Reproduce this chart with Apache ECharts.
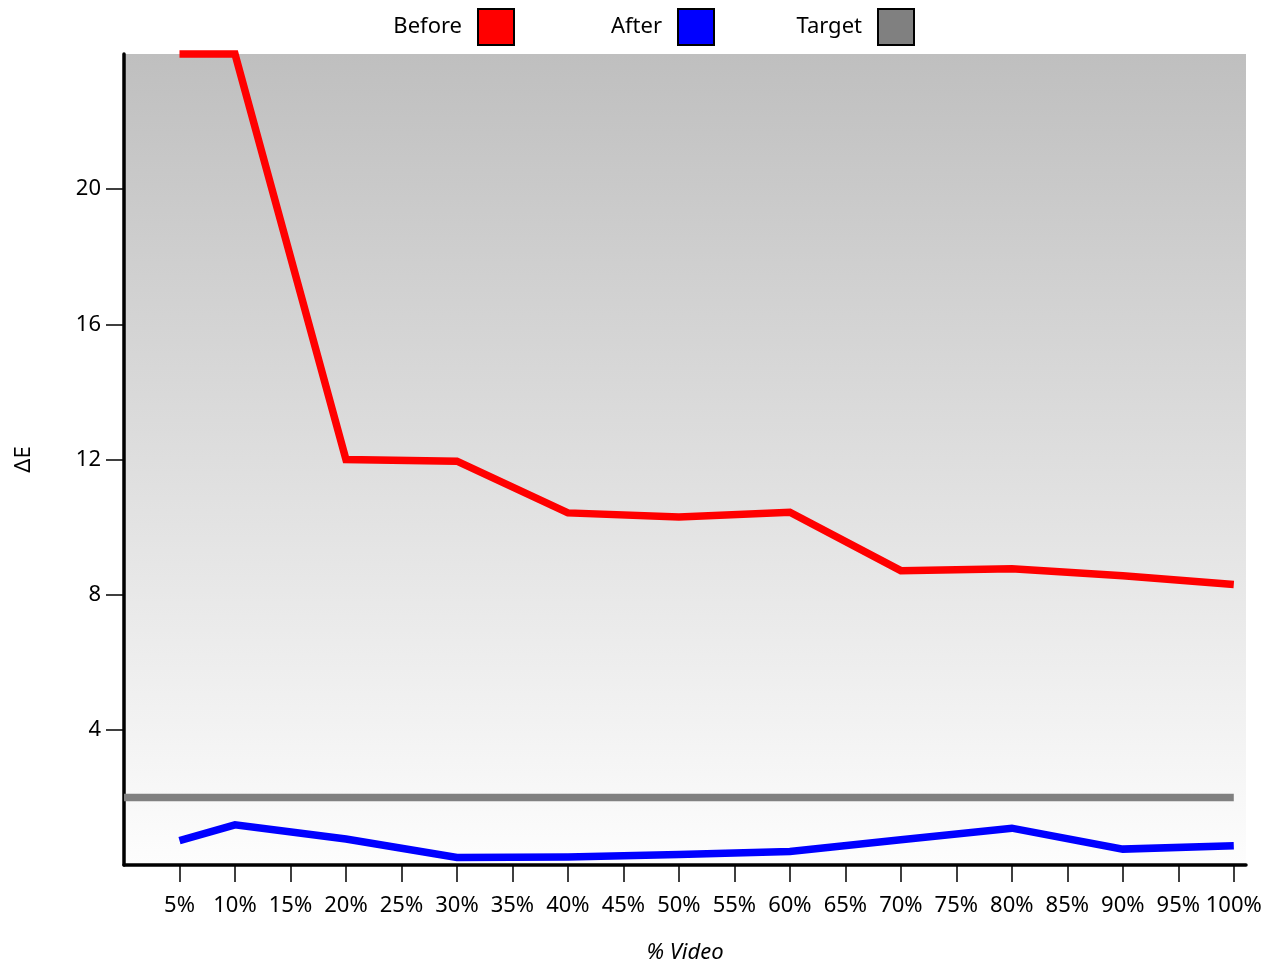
<!DOCTYPE html>
<html>
<head>
<meta charset="utf-8">
<script src="https://cdn.jsdelivr.net/npm/echarts@6/dist/echarts.min.js"></script>
<style>html,body{margin:0;padding:0;background:#fff;overflow:hidden}#c{width:1277px;height:969px}</style>
</head>
<body>
<div id="c"></div>
<script>
const pct = [5, 10, 20, 30, 40, 50, 60, 70, 80, 90, 100];
const beforeVals = [24, 24, 12.0, 11.95, 10.42, 10.3, 10.44, 8.71, 8.77, 8.56, 8.3];
const afterVals = [0.72, 1.19, 0.77, 0.22, 0.24, 0.31, 0.4, 0.75, 1.09, 0.47, 0.57];
const targetX = [0, 100];
const targetVals = [2, 2];
const xTicks = [5, 10, 15, 20, 25, 30, 35, 40, 45, 50, 55, 60, 65, 70, 75, 80, 85, 90, 95, 100];
const yTicks = [4, 8, 12, 16, 20];

const zip = (xs, ys) => xs.map((x, i) => [x, ys[i]]);
const FONT = "'Segoe UI', 'Noto Sans', sans-serif";

function legendFor(name, right) {
  return {
    data: [name],
    top: 8,
    right: right,
    padding: 0,
    align: 'right',
    icon: 'rect',
    itemWidth: 36,
    itemHeight: 36,
    itemStyle: { borderColor: '#000', borderWidth: 2 },
    textStyle: { fontFamily: FONT, fontSize: 22, color: '#000', padding: [6, 11, 0, 0] },
    selectedMode: false
  };
}

const chart = echarts.init(document.getElementById('c'), null, { renderer: 'canvas' });
chart.setOption({
  animation: false,
  legend: [legendFor('Before', 762), legendFor('After', 562), legendFor('Target', 362)],
  grid: {
    left: 124, width: 1122, top: 54, height: 814,
    show: true, borderWidth: 0,
    backgroundColor: new echarts.graphic.LinearGradient(0, 0, 0, 1, [
      { offset: 0, color: '#bfbfbf' },
      { offset: 1, color: '#fdfdfd' }
    ])
  },
  xAxis: {
    type: 'value', min: 0, max: 101.1,
    name: '% Video', nameLocation: 'middle', nameGap: 77,
    nameTextStyle: { fontFamily: FONT, fontSize: 22, fontStyle: 'italic', color: '#000' },
    axisLine: { show: true, onZero: false, lineStyle: { color: '#000', width: 3.5 } },
    axisTick: { show: true, length: 17, customValues: xTicks, lineStyle: { color: '#000', width: 1.5 } },
    axisLabel: { customValues: xTicks, formatter: '{value}%', margin: 30, fontFamily: FONT, fontSize: 22, color: '#000' },
    splitLine: { show: false }
  },
  yAxis: {
    type: 'value', min: 0, max: 24,
    name: 'ΔE', nameLocation: 'middle', nameGap: 89, nameRotate: 90,
    nameTextStyle: { fontFamily: FONT, fontSize: 22, color: '#000' },
    axisLine: { show: true, lineStyle: { color: '#000', width: 3.5 } },
    axisTick: { show: true, length: 18, customValues: yTicks, lineStyle: { color: '#000', width: 1.5 } },
    axisLabel: { customValues: yTicks, margin: 23, fontFamily: FONT, fontSize: 22, color: '#000' },
    splitLine: { show: false }
  },
  series: [
    { name: 'Before', type: 'line', data: zip(pct, beforeVals), showSymbol: false, clip: false,
      itemStyle: { color: '#ff0000' }, lineStyle: { color: '#ff0000', width: 7.5, join: 'miter', cap: 'butt' } },
    { name: 'After', type: 'line', data: zip(pct, afterVals), showSymbol: false, clip: false,
      itemStyle: { color: '#0000ff' }, lineStyle: { color: '#0000ff', width: 7.5, join: 'miter', cap: 'butt' } },
    { name: 'Target', type: 'line', data: zip(targetX, targetVals), showSymbol: false, clip: false,
      itemStyle: { color: '#808080' }, lineStyle: { color: '#808080', width: 7.5, cap: 'butt' }, z: 1 }
  ]
});
</script>
</body>
</html>
